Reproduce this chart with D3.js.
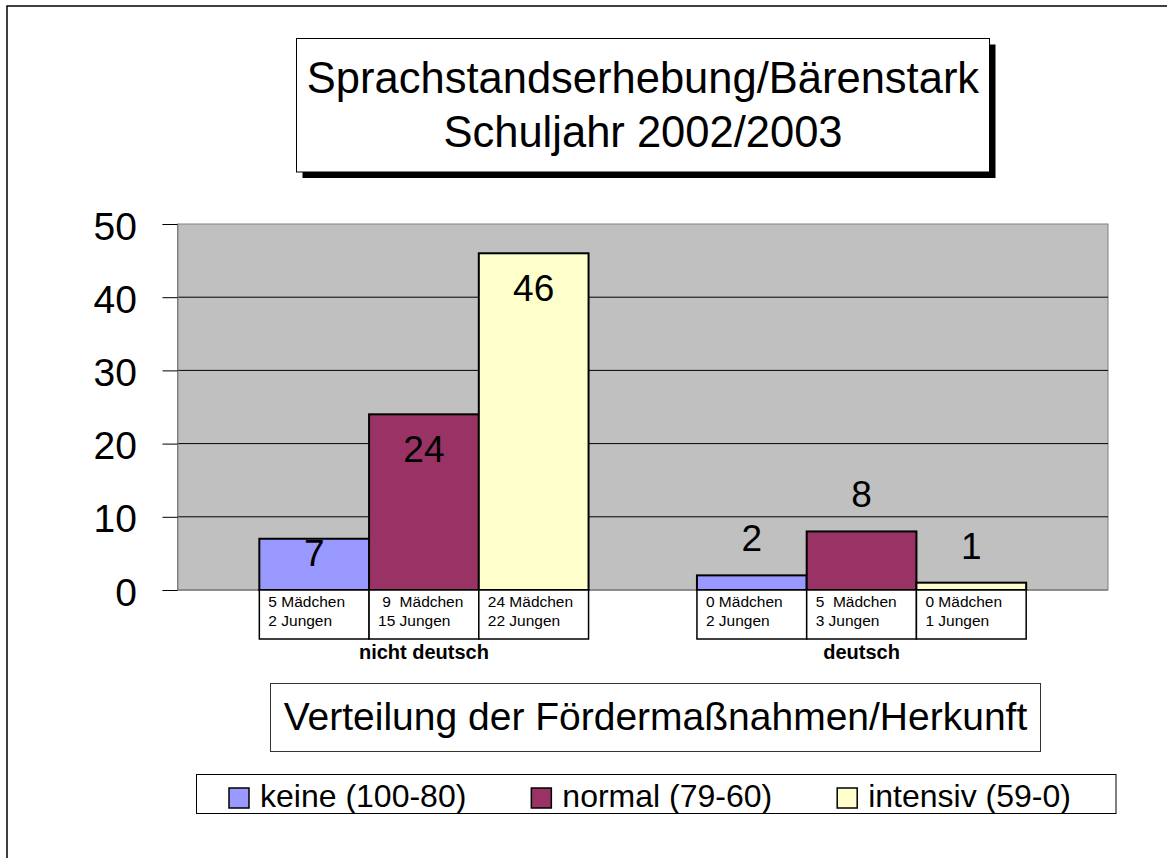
<!DOCTYPE html>
<html>
<head>
<meta charset="utf-8">
<script src="https://cdn.jsdelivr.net/npm/d3@7"></script>
<style>
  html, body { margin: 0; padding: 0; background: #fff; }
  svg { display: block; font-family: "Liberation Sans", Arial, sans-serif; }
</style>
</head>
<body>
<svg id="chart" width="1167" height="858"></svg>
<script>
// ---- data ----
const categories = ["nicht deutsch", "deutsch"];
const seriesNames = ["keine (100-80)", "normal (79-60)", "intensiv (59-0)"];
const keine = [7, 2];
const normal = [24, 8];
const intensiv = [46, 1];
const girlsLine = [["5 Mädchen", " 9  Mädchen", "24 Mädchen"], ["0 Mädchen", "5  Mädchen", "0 Mädchen"]];
const boysLine = [["2 Jungen", "15 Jungen", "22 Jungen"], ["2 Jungen", "3 Jungen", "1 Jungen"]];
const yTicks = [0, 10, 20, 30, 40, 50];
const titleLines = ["Sprachstandserhebung/Bärenstark", "Schuljahr 2002/2003"];
const subtitle = "Verteilung der Fördermaßnahmen/Herkunft";
const colors = ["#9999ff", "#993366", "#ffffcc"];

const seriesValues = [keine, normal, intensiv];

(function draw() {
const svg = d3.select("#chart");

// outer frame
svg.append("rect").attr("x", 7).attr("y", 6).attr("width", 1200).attr("height", 900)
  .attr("fill", "none").attr("stroke", "#000").attr("stroke-width", 1.5);

// title box with shadow
const tb = {x: 296.5, y: 38.5, w: 693, h: 133.5};
svg.append("rect").attr("x", tb.x + 6).attr("y", tb.y + 6).attr("width", tb.w).attr("height", tb.h).attr("fill", "#000");
svg.append("rect").attr("x", tb.x).attr("y", tb.y).attr("width", tb.w).attr("height", tb.h)
  .attr("fill", "#fff").attr("stroke", "#000").attr("stroke-width", 1);
svg.selectAll("text.title").data(titleLines).join("text").attr("class", "title")
  .attr("x", tb.x + tb.w / 2).attr("y", (d, i) => 93 + i * 54)
  .attr("text-anchor", "middle").attr("font-size", 43.5).attr("fill", "#000").text(d => d);

// plot area
const pL = 177.5, pR = 1108, pT = 224, pB = 590;
const x0 = d3.scaleBand().domain(categories).range([pL, pR]).paddingInner(0.2477).paddingOuter(0.187);
const x1 = d3.scaleBand().domain(seriesNames).range([0, x0.bandwidth()]).padding(0);
const y = d3.scaleLinear().domain([0, 50]).range([pB, pT]);

svg.append("rect").attr("x", pL).attr("y", pT).attr("width", pR - pL).attr("height", pB - pT)
  .attr("fill", "#c0c0c0").attr("stroke", "#808080").attr("stroke-width", 1);

// gridlines
svg.selectAll("line.grid").data(yTicks.filter(t => t > 0 && t < 50)).join("line").attr("class", "grid")
  .attr("x1", pL).attr("x2", pR).attr("y1", d => y(d)).attr("y2", d => y(d))
  .attr("stroke", "#000").attr("stroke-width", 1);

// y axis
const yAxis = d3.axisLeft(y).tickValues(yTicks).tickSize(15).tickPadding(25);
const gy = svg.append("g").attr("transform", `translate(${pL},0)`).call(yAxis);
gy.select(".domain").attr("stroke", "#808080");
gy.selectAll(".tick line").attr("stroke", "#000");
gy.selectAll(".tick text").attr("font-size", 39).attr("font-family", "Liberation Sans, Arial, sans-serif")
  .attr("fill", "#000").attr("dy", null)
  .attr("y", 15).attr("x", -40.5);

// x axis baseline
svg.append("line").attr("x1", pL).attr("x2", pR).attr("y1", pB).attr("y2", pB)
  .attr("stroke", "#808080").attr("stroke-width", 1.5);

// bars
const barData = [];
categories.forEach((c, ci) => {
  seriesNames.forEach((s, si) => {
    barData.push({c, ci, s, si, v: seriesValues[si][ci]});
  });
});

svg.selectAll("rect.bar").data(barData).join("rect").attr("class", "bar")
  .attr("x", d => x0(d.c) + x1(d.s)).attr("y", d => y(d.v))
  .attr("width", x1.bandwidth()).attr("height", d => y(0) - y(d.v))
  .attr("fill", d => colors[d.si]).attr("stroke", "#000").attr("stroke-width", 2);

// value labels
svg.selectAll("text.val").data(barData).join("text").attr("class", "val")
  .attr("x", d => x0(d.c) + x1(d.s) + x1.bandwidth() / 2)
  .attr("y", d => d.ci === 0 ? Math.min(y(d.v) + 48, y(0) - 24) : y(d.v) - 24)
  .attr("text-anchor", "middle").attr("font-size", 37).attr("fill", "#000").text(d => d.v);

// data table boxes under bars
svg.selectAll("rect.cell").data(barData).join("rect").attr("class", "cell")
  .attr("x", d => x0(d.c) + x1(d.s)).attr("y", pB)
  .attr("width", x1.bandwidth()).attr("height", 49)
  .attr("fill", "#fff").attr("stroke", "#000").attr("stroke-width", 1.5);

const cellText = svg.selectAll("g.celltext").data(barData).join("g").attr("class", "celltext");
cellText.append("text")
  .attr("x", d => x0(d.c) + x1(d.s) + 9).attr("y", pB + 17)
  .attr("font-size", 15.5).attr("fill", "#000").style("white-space", "pre")
  .text(d => girlsLine[d.ci][d.si]);
cellText.append("text")
  .attr("x", d => x0(d.c) + x1(d.s) + 9).attr("y", pB + 36)
  .attr("font-size", 15.5).attr("fill", "#000").style("white-space", "pre")
  .text(d => boysLine[d.ci][d.si]);

// category labels
svg.selectAll("text.cat").data(categories).join("text").attr("class", "cat")
  .attr("x", d => x0(d) + x0.bandwidth() / 2).attr("y", 659)
  .attr("text-anchor", "middle").attr("font-size", 20).attr("font-weight", "bold").attr("fill", "#000")
  .text(d => d);

// subtitle box
svg.append("rect").attr("x", 270.5).attr("y", 683.5).attr("width", 770).attr("height", 68)
  .attr("fill", "#fff").attr("stroke", "#333").attr("stroke-width", 1);
svg.append("text").attr("x", 655.5).attr("y", 730).attr("text-anchor", "middle")
  .attr("font-size", 39).attr("fill", "#000").text(subtitle);

// legend
const lg = {x: 196.5, y: 774.5, w: 919.5, h: 39};
svg.append("rect").attr("x", lg.x).attr("y", lg.y).attr("width", lg.w).attr("height", lg.h)
  .attr("fill", "#fff").attr("stroke", "#000").attr("stroke-width", 1);
const legG = svg.append("g");
const items = legG.selectAll("g.li").data(seriesNames).join("g").attr("class", "li");
items.append("rect").attr("x", 0).attr("y", 788).attr("width", 20).attr("height", 20)
  .attr("fill", (d, i) => colors[i]).attr("stroke", "#000").attr("stroke-width", 1.5);
items.append("text").attr("x", 31).attr("y", 806.5).attr("font-size", 32).attr("fill", "#000").text(d => d);
let cx = 229;
items.each(function() {
  const g = d3.select(this);
  g.attr("transform", `translate(${cx},0)`);
  const w = g.select("text").node().getComputedTextLength();
  cx += 31 + w + 65;
});
})();
</script>
</body>
</html>
